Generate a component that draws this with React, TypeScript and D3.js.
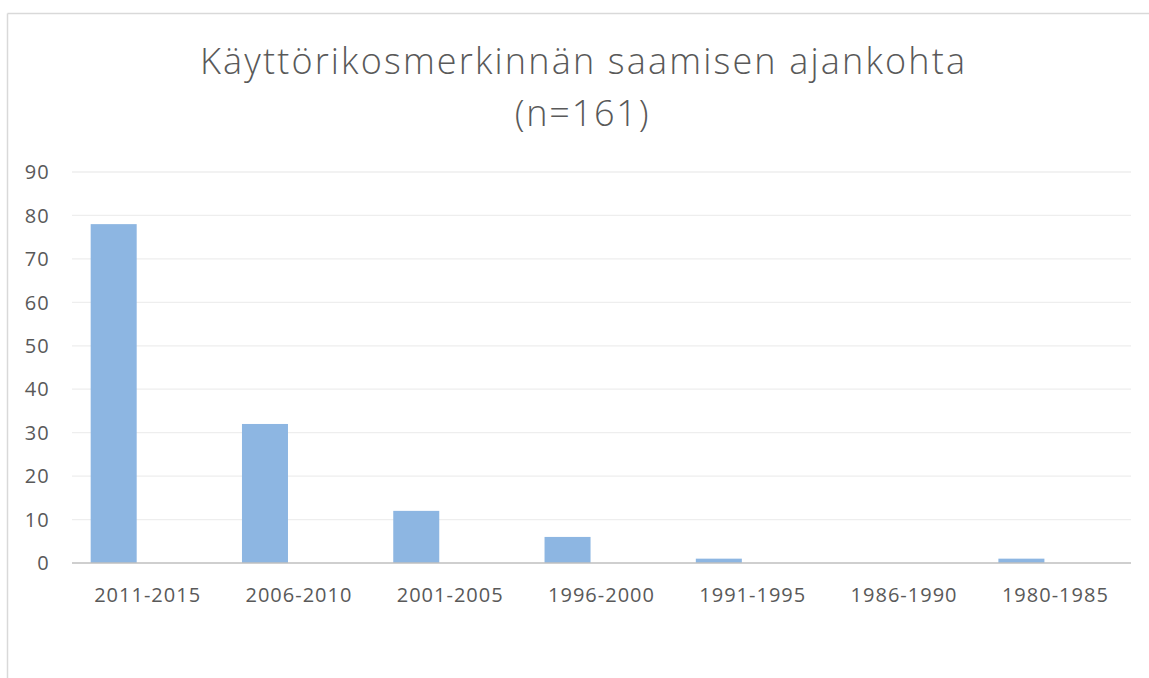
import React from "react";
import * as d3 from "d3";

const categories = ["2011-2015", "2006-2010", "2001-2005", "1996-2000", "1991-1995", "1986-1990", "1980-1985"];
const values = [78, 32, 12, 6, 1, 0, 1];
const yTicks = [0, 10, 20, 30, 40, 50, 60, 70, 80, 90];
const titleLines = ["Käyttörikosmerkinnän saamisen ajankohta", "(n=161)"];
const seriesSlots = ["count", "empty"];

const W = 1149;
const H = 678;
const plot = { left: 72, right: 1131, top: 172, bottom: 563 };

export default function App() {
  const x = d3.scaleBand<string>().domain(categories).range([plot.left, plot.right]).paddingInner(0).paddingOuter(0);
  const xs = d3.scaleBand<string>().domain(seriesSlots).range([0, x.bandwidth()]).paddingInner(0.3225).paddingOuter(0.275);
  const y = d3.scaleLinear().domain([0, 90]).range([plot.bottom, plot.top]);
  const font = "'Open Sans', 'Noto Sans', sans-serif";

  return (
    <svg width={W} height={H} style={{ position: "absolute", left: 0, top: 0, background: "#fff" }}>
      <line x1={7.5} x2={W} y1={13.5} y2={13.5} stroke="#d9d9d9" strokeWidth={1.5} />
      <line x1={7.5} x2={7.5} y1={13.5} y2={H} stroke="#d9d9d9" strokeWidth={1.5} />
      <text x={582.5} y={74} textAnchor="middle" fontFamily={font} fontWeight={300} fontSize={36} fill="#595959" textLength={765} lengthAdjust="spacing">
        {titleLines[0]}
      </text>
      <text x={582.5} y={126} textAnchor="middle" fontFamily={font} fontWeight={300} fontSize={36} fill="#595959" letterSpacing={1.8}>
        {titleLines[1]}
      </text>
      {yTicks.map((t) => (
        <g key={t}>
          {t > 0 && <line x1={plot.left} x2={plot.right} y1={y(t)} y2={y(t)} stroke="#eeeeee" strokeWidth={1.3} />}
          <text x={50} y={y(t)} dy="0.36em" textAnchor="end" fontFamily={font} fontSize={20} fill="#595959" letterSpacing={1.2}>
            {t}
          </text>
        </g>
      ))}
      {categories.map((c, i) => (
        <rect
          key={c}
          x={(x(c) ?? 0) + (xs("count") ?? 0)}
          y={y(values[i])}
          width={xs.bandwidth()}
          height={plot.bottom - y(values[i])}
          fill="#8db6e2"
        />
      ))}
      <line x1={plot.left} x2={plot.right} y1={plot.bottom} y2={plot.bottom} stroke="#bfbfbf" strokeWidth={1.5} />
      {categories.map((c) => (
        <text key={c} x={(x(c) ?? 0) + x.bandwidth() / 2} y={602} textAnchor="middle" fontFamily={font} fontSize={20} fill="#595959" letterSpacing={1}>
          {c}
        </text>
      ))}
    </svg>
  );
}
